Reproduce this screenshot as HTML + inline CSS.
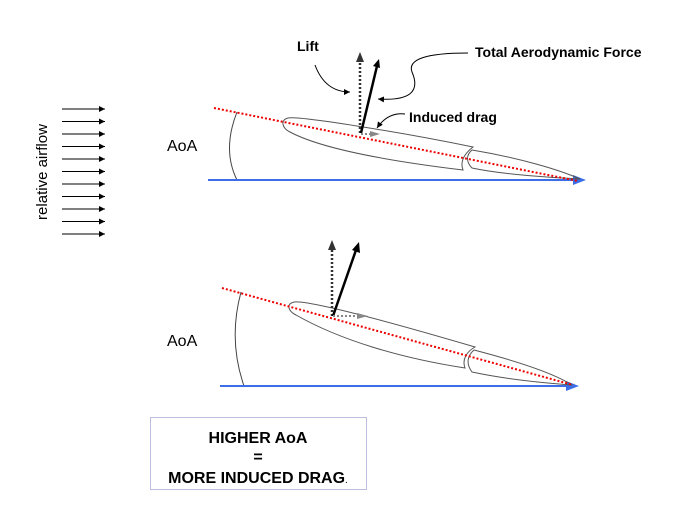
<!DOCTYPE html>
<html><head><style>
body{margin:0;background:#fff;}
svg{display:block;font-family:"Liberation Sans",Arial,sans-serif;}
</style></head><body>
<svg width="691" height="508" viewBox="0 0 691 508" xmlns="http://www.w3.org/2000/svg">
<defs>
<marker id="sm" markerWidth="6" markerHeight="6" refX="6" refY="3" orient="auto" markerUnits="userSpaceOnUse"><path d="M0,0 L6,3 L0,6 z" fill="#000"/></marker>
</defs>
<!-- airflow arrows -->
<g stroke="#000" stroke-width="1" marker-end="url(#sm)">
<line x1="62" y1="109" x2="105" y2="109"/><line x1="62" y1="121.5" x2="105" y2="121.5"/>
<line x1="62" y1="134" x2="105" y2="134"/><line x1="62" y1="146.5" x2="105" y2="146.5"/>
<line x1="62" y1="159" x2="105" y2="159"/><line x1="62" y1="171.5" x2="105" y2="171.5"/>
<line x1="62" y1="184" x2="105" y2="184"/><line x1="62" y1="196.5" x2="105" y2="196.5"/>
<line x1="62" y1="209" x2="105" y2="209"/><line x1="62" y1="221.5" x2="105" y2="221.5"/>
<line x1="62" y1="234" x2="105" y2="234"/>
</g>
<text x="0" y="0" font-size="15" text-anchor="middle" transform="translate(47,172) rotate(-90)">relative airflow</text>

<!-- top diagram -->
<text x="167" y="151" font-size="16">AoA</text>
<path d="M237,112 Q222,150 237,180" fill="none" stroke="#444" stroke-width="1"/>
<line x1="208" y1="180" x2="574" y2="180" stroke="#3a6fe8" stroke-width="2"/>
<path d="M573,175 L586,180 L573,185 z" fill="#3a6fe8"/>
<path d="M473,147 C400,132 300,116 288,118 C280,120 282,128 290,132 C320,148 380,160 463,170 C460,162 464,154 473,147 Z" fill="none" stroke="#555" stroke-width="1"/>
<path d="M472,150 C520,158 560,170 580,179 C540,177 500,174 472,168 C466,162 466,155 472,150 Z" fill="none" stroke="#555" stroke-width="1"/>
<line x1="214" y1="108" x2="578" y2="181" stroke="#e00" stroke-width="2" stroke-dasharray="2,2"/>
<line x1="360" y1="133" x2="360" y2="60" stroke="#333" stroke-width="2.5" stroke-dasharray="2,2"/>
<path d="M356,62 L360,52 L364,62 z" fill="#333"/>
<line x1="361" y1="133" x2="377" y2="66" stroke="#000" stroke-width="2.5"/>
<path d="M373,66 L379,59 L380,68 z" fill="#000"/>
<line x1="361" y1="134" x2="371" y2="134" stroke="#888" stroke-width="2" stroke-dasharray="2,2"/>
<path d="M370,131 L380,134 L370,137 z" fill="#888"/>
<text x="297" y="51" font-size="14" font-weight="bold">Lift</text>
<path d="M315,65 Q325,92 350,92" fill="none" stroke="#000" stroke-width="1" marker-end="url(#sm)"/>
<text x="475" y="57" font-size="14" font-weight="bold">Total Aerodynamic Force</text>
<path d="M468,53 Q405,53 412,72 Q425,102 378,99" fill="none" stroke="#000" stroke-width="1" marker-end="url(#sm)"/>
<text x="409" y="122" font-size="14" font-weight="bold">Induced drag</text>
<path d="M405,114 Q388,112 377,128" fill="none" stroke="#000" stroke-width="1" marker-end="url(#sm)"/>

<!-- bottom diagram -->
<text x="167" y="346" font-size="16">AoA</text>
<path d="M241,292 Q228,340 244,386" fill="none" stroke="#444" stroke-width="1"/>
<line x1="220" y1="386" x2="567" y2="386" stroke="#3a6fe8" stroke-width="2"/>
<path d="M566,381 L579,386 L566,391 z" fill="#3a6fe8"/>
<path d="M475,347 C400,325 310,300 294,302 C286,304 288,311 296,315 C340,340 400,358 465,368 C462,360 466,352 475,347 Z" fill="none" stroke="#555" stroke-width="1"/>
<path d="M474,350 C520,362 555,374 572,385 C530,382 500,378 472,372 C466,364 467,356 474,350 Z" fill="none" stroke="#555" stroke-width="1"/>
<line x1="222" y1="288" x2="573" y2="385" stroke="#e00" stroke-width="2" stroke-dasharray="2,2"/>
<line x1="332" y1="316" x2="332" y2="248" stroke="#333" stroke-width="2.5" stroke-dasharray="2,2"/>
<path d="M328,250 L332,240 L336,250 z" fill="#333"/>
<line x1="333" y1="316" x2="356" y2="250" stroke="#000" stroke-width="2.5"/>
<path d="M352,250 L359,242 L360,253 z" fill="#000"/>
<line x1="333" y1="316" x2="358" y2="316" stroke="#888" stroke-width="2" stroke-dasharray="2,2"/>
<path d="M357,313 L368,316 L357,319 z" fill="#888"/>

<!-- box -->
<rect x="150.5" y="417.5" width="216" height="72" fill="none" stroke="#7a7ab8" stroke-width="1" stroke-dasharray="1,1"/>
<text x="258" y="443" font-size="16" font-weight="bold" text-anchor="middle">HIGHER AoA</text>
<text x="258" y="462" font-size="16" font-weight="bold" text-anchor="middle">=</text>
<text x="258" y="483" font-size="16" font-weight="bold" text-anchor="middle">MORE INDUCED DRAG<tspan font-weight="normal" font-size="10">.</tspan></text>
</svg>
</body></html>
